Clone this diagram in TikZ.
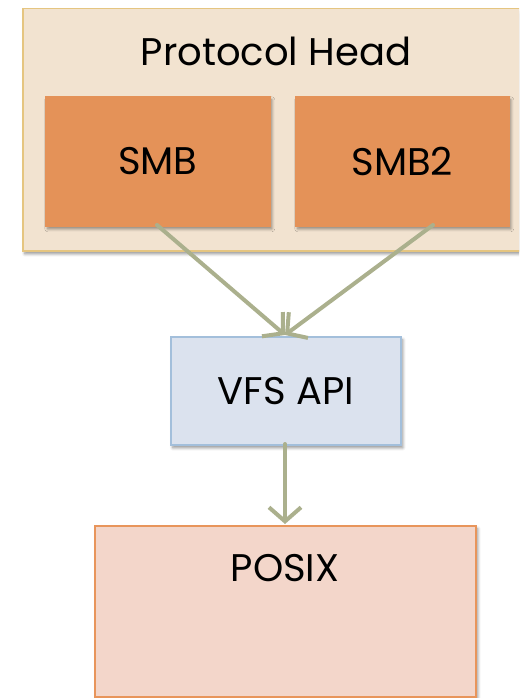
\documentclass[tikz,border=0pt]{standalone}
\usepackage{fontspec}
\setmainfont{Poppins}
\usetikzlibrary{arrows.meta,shadows.blur}

\definecolor{headfill}{HTML}{F2E3D0}
\definecolor{headline}{HTML}{E5C580}
\definecolor{protofill}{HTML}{E49258}
\definecolor{vfsfill}{HTML}{DBE2EE}
\definecolor{vfsline}{HTML}{A3BFDB}
\definecolor{posixfill}{HTML}{F3D6CA}
\definecolor{posixline}{HTML}{E8955B}
\definecolor{flow}{HTML}{ABB08D}

\tikzset{
  box/.style={rectangle, inner sep=0pt, anchor=north west, line width=1.5pt,
    blur shadow={shadow xshift=2pt, shadow yshift=-3pt, shadow blur steps=6,
      shadow opacity=45, shadow blur radius=3pt}},
  headbox/.style={box, fill=headfill, draw=headline},
  protobox/.style={box, fill=protofill, draw=protofill},
  vfsbox/.style={box, fill=vfsfill, draw=vfsline},
  posixbox/.style={box, fill=posixfill, draw=posixline},
  caption/.style={font=\fontsize{38.5}{44}\selectfont, text=black, inner sep=0pt},
  flowarrow/.style={draw=flow, line width=4pt, line cap=round},
  chevron/.tip={Straight Barb[length=14pt, width=32pt]},
}

\begin{document}
\begin{tikzpicture}[x=1pt, y=-1pt]
  \useasboundingbox (0,0) rectangle (519,698);
  \begin{scope}
    \clip (0,0) rectangle (519,698);

    % protocol head container and its two protocol boxes
    \node[headbox, minimum width=520pt, minimum height=242pt] (head) at (22,8) {};
    \node[caption] (headtext) at (276,51) {Protocol Head};
    \node[protobox, minimum width=224pt, minimum height=129pt] (smb) at (45,96) {};
    \node[caption] at (smb.center) {SMB};
    \node[protobox, minimum width=213pt, minimum height=129pt] (smb2) at (295,96) {};
    \node[caption] at (smb2.center) {SMB2};

    % virtual file system layer
    \node[vfsbox, minimum width=230pt, minimum height=108pt] (vfs) at (170,336) {};
    \node[caption] at (vfs.center) {VFS API};

    % posix layer
    \node[posixbox, minimum width=381pt, minimum height=171pt] (posix) at (94,525) {};
    \node[caption] (posixtext) at (285,568) {POSIX};

    % anchor points of the connectors
    \coordinate (smbout) at (157,225);
    \coordinate (smb2out) at (433,225);
    \coordinate (vfsin) at (285,335);
    \coordinate (vfsout) at (285,444);
    \coordinate (posixin) at (285,524);

    \draw[flowarrow, -chevron] (smbout) -- (vfsin);
    \draw[flowarrow, -chevron] (smb2out) -- (vfsin);
    \draw[flowarrow, -chevron] (vfsout) -- (posixin);
  \end{scope}
\end{tikzpicture}
\end{document}
